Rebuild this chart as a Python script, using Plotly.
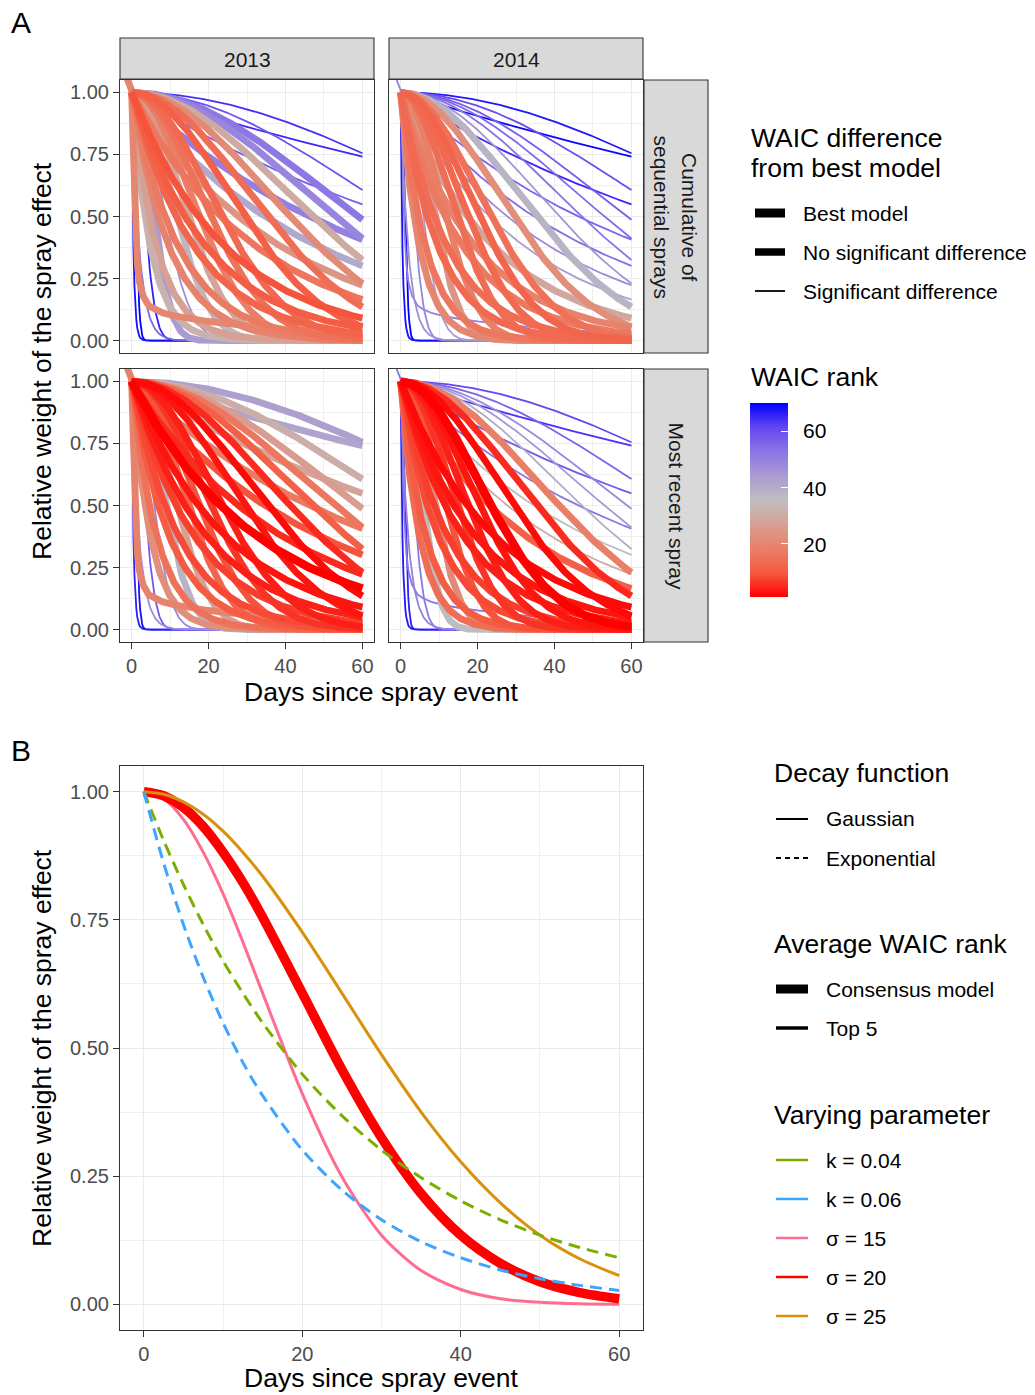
import numpy as np
import plotly.graph_objects as go
from plotly.colors import sample_colorscale

W, H = 1035, 1395
FONT = "Liberation Sans, Arial, Helvetica, sans-serif"

# ---------------- Panel A data (parameters) ----------------
GAUSS_SIGMA = [1, 3, 5, 7.5, 10, 12.5, 15, 17.5, 20, 25, 30, 35, 40, 45, 50, 60, 80]
EXP_K = [2, 0.5, 0.2, 0.15, 0.1, 0.08, 0.06, 0.05, 0.04, 0.03, 0.025, 0.02, 0.015, 0.01, 0.005]
# one long-tailed curve
TAIL_DAYS = [-1.5, 0, 0.5, 1, 1.5, 2, 3, 4.5, 6, 8, 11, 15, 20, 25, 30, 40, 50, 60]
TAIL_WEIGHT = [1.07, 1.01, 0.75, 0.45, 0.31, 0.24, 0.18, 0.14, 0.125, 0.112, 0.1, 0.088,
               0.077, 0.068, 0.06, 0.045, 0.035, 0.028]

# WAIC rank per model (order: Gaussian sigmas, exponential ks, tail)
RANK_2013_CUM = [70, 66, 44, 47, 37, 28, 18, 15, 13, 11, 14, 21, 30, 49, 52, 59, 64,
                 68, 55, 32, 27, 19, 17, 12, 10, 9, 16, 24, 41, 50, 57, 65, 20]
RANK_2014_CUM = [70, 49, 44, 24, 18, 14, 13, 12, 15, 22, 38, 46, 53, 55, 57, 60, 67,
                 68, 47, 20, 16, 13, 14, 17, 19, 29, 43, 48, 54, 56, 65, 69, 50]
RANK_2013_REC = [68, 58, 48, 38, 27, 12, 9, 6, 4, 3, 2, 5, 11, 16, 26, 31, 43,
                 66, 47, 22, 15, 10, 8, 7, 4, 3, 1, 5, 9, 17, 28, 42, 19]
RANK_2014_REC = [66, 52, 36, 21, 9, 6, 4, 3, 1, 2, 5, 18, 40, 45, 48, 56, 61,
                 67, 50, 14, 10, 8, 7, 4, 3, 2, 11, 30, 35, 52, 58, 64, 53]
# WAIC difference class: B = best model, N = no significant difference, S = significant
SIG_2013_CUM = list("SSNSNNNNNNNNNNNSS" + "SSNNNNNNNNNNNSS" + "N")
SIG_2014_CUM = list("SSSNNNNNNNNSSSSSS" + "SSNNNNNNNSSSSSS" + "S")
SIG_2013_REC = list("SSSNNNNNNNNNNNNNN" + "SSNNNNNNNBNNNNN" + "N")
SIG_2014_REC = list("SSNNNNNNBNNNSSSSS" + "SSNNNNNNNNSSSSS" + "S")

# ---------------- Panel B data ----------------
DAYS_B = [0, 2.5, 5, 7.5, 10, 12.5, 15, 20, 25, 30, 35, 40, 45, 50, 55, 60]
W_K004 = [1.000, 0.905, 0.819, 0.741, 0.670, 0.607, 0.549, 0.449, 0.368, 0.301, 0.247, 0.202, 0.165, 0.135, 0.111, 0.091]
W_K006 = [1.000, 0.861, 0.741, 0.638, 0.549, 0.472, 0.407, 0.301, 0.223, 0.165, 0.122, 0.091, 0.067, 0.050, 0.037, 0.027]
W_S15 = [1.000, 0.986, 0.946, 0.882, 0.801, 0.707, 0.607, 0.411, 0.249, 0.135, 0.066, 0.029, 0.011, 0.004, 0.001, 0.000]
W_S20 = [1.000, 0.992, 0.969, 0.932, 0.882, 0.823, 0.755, 0.607, 0.458, 0.325, 0.216, 0.135, 0.080, 0.044, 0.023, 0.011]
W_S25 = [1.000, 0.995, 0.980, 0.956, 0.923, 0.882, 0.835, 0.726, 0.607, 0.487, 0.375, 0.278, 0.198, 0.135, 0.089, 0.056]
B_LABELS = ["k = 0.04", "k = 0.06", "σ = 15", "σ = 20", "σ = 25"]

# ---------------- styles ----------------
COLORSCALE = [[0.0, "#FF0000"], [0.125, "#F55A41"], [0.25, "#E98068"], [0.375, "#D6A094"],
              [0.5, "#BEBEBE"], [0.625, "#AA9BD2"], [0.75, "#8A74E6"], [0.875, "#6446F0"],
              [1.0, "#0000FF"]]
RMIN, RMAX = 1, 70
WIDTHS = {"B": 8.5, "N": 6.8, "S": 1.8}


def px(x):
    return x / W


def py(y):
    return 1 - y / H


fig = go.Figure()

t = np.linspace(0, 60, 241)
curves = []
for s in GAUSS_SIGMA:
    curves.append((t, np.exp(-t ** 2 / (2 * s ** 2))))
for k in EXP_K:
    curves.append((t, np.exp(-k * t)))
curves.append((np.array(TAIL_DAYS), np.array(TAIL_WEIGHT)))

facets = [("x", "y", RANK_2013_CUM, SIG_2013_CUM),
          ("x2", "y2", RANK_2014_CUM, SIG_2014_CUM),
          ("x3", "y3", RANK_2013_REC, SIG_2013_REC),
          ("x4", "y4", RANK_2014_REC, SIG_2014_REC)]

for xa, ya, ranks, sigs in facets:
    order = sorted(range(len(curves)), key=lambda i: -ranks[i])
    for i in order:
        col = sample_colorscale(COLORSCALE, [(ranks[i] - RMIN) / (RMAX - RMIN)])[0]
        xs, ys = curves[i]
        fig.add_trace(go.Scatter(x=xs, y=ys, mode="lines", xaxis=xa, yaxis=ya,
                                 line=dict(color=col, width=WIDTHS[sigs[i]]),
                                 showlegend=False, hoverinfo="skip"))

# Panel B
b_series = [(W_S15, "#FF6C91", 3, "solid"), (W_S20, "#FF0000", 9.5, "solid"),
            (W_S25, "#D9900A", 3, "solid"), (W_K004, "#7CAE00", 3, "12px,7px"),
            (W_K006, "#3DA5FF", 3, "12px,7px")]
for vals, col, wd, dash in b_series:
    fig.add_trace(go.Scatter(x=DAYS_B, y=vals, mode="lines", xaxis="x5", yaxis="y5",
                             line=dict(color=col, width=wd, dash=dash, shape="spline", smoothing=0.8),
                             showlegend=False, hoverinfo="skip"))

# colourbar carrier
fig.add_trace(go.Scatter(x=[-100], y=[-100], mode="markers", xaxis="x5", yaxis="y5",
                         marker=dict(color=[35], colorscale=COLORSCALE, cmin=RMIN, cmax=RMAX,
                                     size=1, opacity=0, showscale=True,
                                     colorbar=dict(x=px(750), xanchor="left", y=py(500), yanchor="middle",
                                                   len=194, lenmode="pixels", thickness=38,
                                                   thicknessmode="pixels", outlinewidth=0,
                                                   ticks="inside", ticklen=7, tickwidth=1.2,
                                                   tickcolor="white", tickvals=[20, 40, 60],
                                                   showticklabels=False, xpad=0, ypad=0)),
                         showlegend=False, hoverinfo="skip"))

AX_COMMON = dict(showgrid=True, gridcolor="#EBEBEB", gridwidth=1.1, showline=True, mirror=True,
                 linecolor="#333333", linewidth=1.1, zeroline=False, tickcolor="#333333",
                 tickwidth=1.1, ticklen=6, tickfont=dict(size=20, color="#4D4D4D", family=FONT))


def xcfg(x0, x1, anchor, labels):
    d = dict(AX_COMMON)
    d.update(domain=[px(x0), px(x1)], range=[-3, 63], anchor=anchor, tickvals=[0, 20, 40, 60],
             showticklabels=labels, ticks="outside" if labels else "",
             minor=dict(tickvals=[10, 30, 50], showgrid=True, gridcolor="#EFEFEF", gridwidth=0.6))
    return d


def ycfg(y0, y1, anchor, labels):
    d = dict(AX_COMMON)
    d.update(domain=[py(y1), py(y0)], range=[-0.05, 1.05], anchor=anchor,
             tickvals=[0, 0.25, 0.5, 0.75, 1.0], ticktext=["0.00", "0.25", "0.50", "0.75", "1.00"],
             showticklabels=labels, ticks="outside" if labels else "",
             minor=dict(tickvals=[0.125, 0.375, 0.625, 0.875], showgrid=True,
                        gridcolor="#EFEFEF", gridwidth=0.6))
    return d


L0, L1, R0, R1 = 120, 374, 389, 643
T0, T1, B0, B1 = 80, 353, 369, 642
fig.update_layout(
    width=W, height=H, margin=dict(l=0, r=0, t=0, b=0), autosize=False,
    paper_bgcolor="white", plot_bgcolor="white", font=dict(family=FONT, color="black"),
    xaxis=xcfg(L0, L1, "y", False), yaxis=ycfg(T0, T1, "x", True),
    xaxis2=xcfg(R0, R1, "y2", False), yaxis2=ycfg(T0, T1, "x2", False),
    xaxis3=xcfg(L0, L1, "y3", True), yaxis3=ycfg(B0, B1, "x3", True),
    xaxis4=xcfg(R0, R1, "y4", True), yaxis4=ycfg(B0, B1, "x4", False),
    xaxis5=xcfg(120, 643, "y5", True), yaxis5=ycfg(766, 1330, "x5", True),
)

shapes = []
annotations = []


def rect(x0, y0, x1, y1):
    shapes.append(dict(type="rect", xref="paper", yref="paper", x0=px(x0), x1=px(x1),
                       y0=py(y1), y1=py(y0), fillcolor="#D9D9D9",
                       line=dict(color="#333333", width=1.1), layer="above"))


def hline(x0, x1, y, width, color="black", dash="solid"):
    shapes.append(dict(type="line", xref="paper", yref="paper", x0=px(x0), x1=px(x1),
                       y0=py(y), y1=py(y), line=dict(color=color, width=width, dash=dash)))


def txt(x, y, s, size, color="black", xanchor="left", angle=0, yanchor="middle"):
    annotations.append(dict(x=px(x), y=py(y), xref="paper", yref="paper", text=s, showarrow=False,
                            xanchor=xanchor, yanchor=yanchor, textangle=angle, borderpad=0,
                            font=dict(size=size, color=color, family=FONT)))


# strips
rect(L0, 38, L1, 79)
rect(R0, 38, R1, 79)
rect(644, T0, 708, T1)
rect(644, B0, 708, B1)
txt((L0 + L1) / 2, 59, "2013", 21, color="#1A1A1A", xanchor="center")
txt((R0 + R1) / 2, 59, "2014", 21, color="#1A1A1A", xanchor="center")
txt(676, (T0 + T1) / 2, "Cumulative of<br>sequential sprays", 21, color="#1A1A1A",
    xanchor="center", angle=90)
txt(676, (B0 + B1) / 2, "Most recent spray", 21, color="#1A1A1A", xanchor="center", angle=90)

# panel labels and axis titles
txt(10, 22, "A", 30)
txt(10, 750, "B", 30)
txt(42, (T0 + B1) / 2, "Relative weight of the spray effect", 26.5, xanchor="center", angle=-90)
txt(42, 1048, "Relative weight of the spray effect", 26.5, xanchor="center", angle=-90)
txt(381, 692, "Days since spray event", 26.5, xanchor="center")
txt(381, 1378, "Days since spray event", 26.5, xanchor="center")

# legend A
txt(750, 138, "WAIC difference", 26.5)
txt(750, 168, "from best model", 26.5)
for yy, lab, key in [(213, "Best model", "B"), (252, "No significant difference", "N"),
                     (291, "Significant difference", "S")]:
    hline(755, 785, yy, {"B": 9, "N": 7.5, "S": 1.8}[key])
    txt(802, yy, lab, 21)
txt(750, 377, "WAIC rank", 26.5)
for yy, lab in [(431, "60"), (488, "40"), (544, "20")]:
    txt(802, yy, lab, 21)

# legend B
txt(773, 773, "Decay function", 26.5)
hline(776, 808, 819, 2)
txt(825, 819, "Gaussian", 21)
hline(776, 808, 858, 2, dash="5px,4px")
txt(825, 858, "Exponential", 21)
txt(773, 944, "Average WAIC rank", 26.5)
hline(776, 808, 989, 9)
txt(825, 989, "Consensus model", 21)
hline(776, 808, 1028, 3.5)
txt(825, 1028, "Top 5", 21)
txt(773, 1115, "Varying parameter", 26.5)
b_cols = ["#7CAE00", "#3DA5FF", "#FF6C91", "#FF0000", "#D9900A"]
for j, (lab, col) in enumerate(zip(B_LABELS, b_cols)):
    yy = 1160 + 39 * j
    hline(776, 808, yy, 2.5, color=col)
    txt(825, yy, lab, 21)

fig.update_layout(shapes=shapes, annotations=annotations)
fig.write_html("out.html", config={"displayModeBar": False},
               post_script="document.body.style.margin='0px';document.documentElement.style.margin='0px';")
